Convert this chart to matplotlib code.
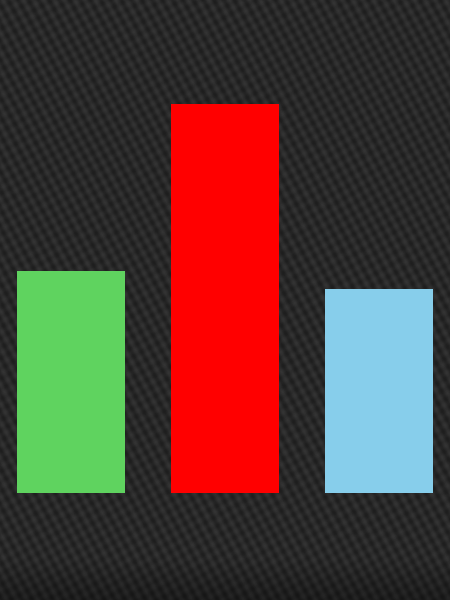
import numpy as np
import matplotlib
matplotlib.use("Agg")
import matplotlib.pyplot as plt

categories = ["A", "B", "C"]
values = [12, 21, 11]
colors = ["#5fd35f", "#ff0000", "#87ceeb"]

W, H = 450, 600
fig = plt.figure(figsize=(W / 100, H / 100), dpi=100)

# carbon-fibre like backdrop (decoration only)
bg = fig.add_axes([0, 0, 1, 1])
yy, xx = np.mgrid[0:H, 0:W].astype(float)
n = np.array([1.8, -1.0]) / np.hypot(1.8, 1.0)
d = np.array([1.0, 1.8]) / np.hypot(1.0, 1.8)
stripe = np.sin(2 * np.pi * (xx * n[0] + yy * n[1]) / 9.0)
bump = np.sin(2 * np.pi * (xx * d[0] + yy * d[1]) / 9.0)
tex = 0.16 + 0.03 * stripe + 0.012 * bump
shade = np.clip((yy - 560) / 40.0, 0, 1)
tex = tex * (1 - 0.3 * shade)
bg.imshow(tex, cmap="gray", vmin=0, vmax=1, aspect="auto", interpolation="bilinear")
bg.set_axis_off()

ax = fig.add_axes([0, 107 / H, 1, 493 / H])
ax.patch.set_alpha(0)
x = np.arange(len(categories))
ax.bar(x, values, width=0.7, color=colors)
ax.set_xlim(-0.461, 2.461)
ax.set_ylim(0, 493 / 389 * 21)
ax.set_axis_off()

fig.savefig("out.png", dpi=100)
